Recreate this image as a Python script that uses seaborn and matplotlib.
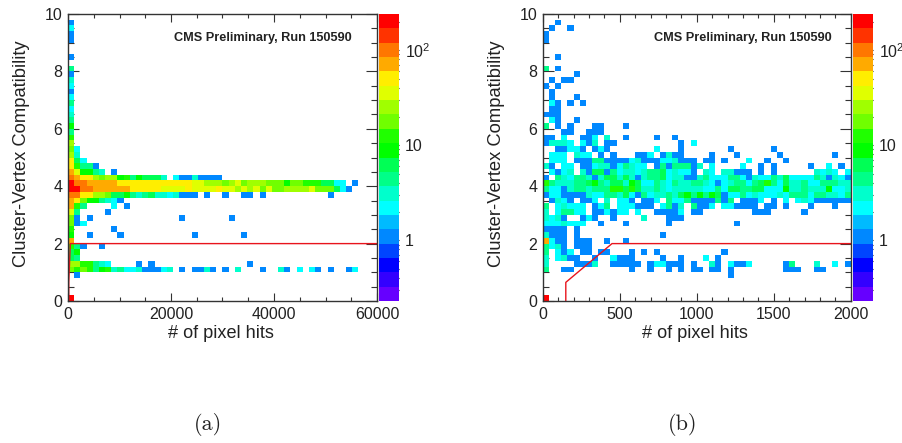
import numpy as np
import pandas as pd
import matplotlib
matplotlib.use("Agg")
import matplotlib.pyplot as plt
from matplotlib.colors import ListedColormap, LogNorm
import seaborn as sns

n_bins = 50
y_max = 10
left_x_max = 60000
right_x_max = 2000

# 20 colour levels of the palette, bottom of the scale first
palette = ["#6600ff", "#3300ff", "#0000ff", "#0044ff", "#0088ff", "#00bbff", "#00ffff",
           "#00ffcc", "#00ff88", "#00ff55", "#00ff00", "#20ff00", "#70ff00", "#a0ff00",
           "#e0ff00", "#ffee00", "#ffaa00", "#ff7700", "#ff3300", "#ff0000"]
z_min = 0.229
z_max = 240

# counts per cell, key = row counted from the top (y=10), a list starts at column 0,
# a dict is {column: count}
left_counts = {
    1: [1], 2: [2], 3: [1], 4: [1], 7: [1], 9: [4], 10: [1], 11: [3], 12: [2], 13: [1],
    14: [2], 15: [4], 16: [2], 17: [3], 18: [4], 19: [9], 20: [4], 21: [12], 22: [24],
    23: [17, 2], 24: [24, 3], 25: [50, 6, 2], 26: [50, 12, 4, 4, 1],
    27: [75, 33, 9, 9, 4, 3, 0, 1],
    28: [110, 75, 50, 50, 24, 17, 24, 24, 9, 12, 4, 9, 6, 6, 6, 3, 0, 2, 1, 1, 3, 1, 1, 1, 1],
    29: [170, 110, 110, 75, 75, 75, 75, 75, 50, 50, 50, 50, 50, 50, 50, 50, 50, 50, 50, 50,
         33, 33, 24, 24, 24, 17, 24, 33, 17, 24, 24, 24, 17, 17, 17, 9, 17, 17, 12, 12, 12,
         6, 6, 2, 2, 0, 1],
    30: [170, 170, 110, 110, 75, 75, 75, 75, 75, 75, 50, 50, 50, 50, 50, 33, 33, 33, 33, 50,
         33, 33, 33, 33, 50, 33, 33, 24, 33, 24, 33, 17, 33, 17, 17, 24, 24, 24, 24, 33, 17,
         17, 17, 6, 2, 1],
    31: [110, 110, 50, 50, 24, 24, 17, 6, 6, 9, 4, 3, 4, 6, 3, 3, 2, 3, 1, 1, 1, 0, 1, 0, 0, 1,
         0, 0, 1, 1, 0, 1, 0, 0, 0, 0, 0, 0, 0, 0, 0, 0, 1],
    32: [75, 50, 17, 9, 9, 4, 3, 2, 1],
    33: [75, 12, 4, 0, 0, 0, 0, 2, 0, 1],
    34: [33, 4, 0, 0, 0, 0, 1],
    35: {0: 17, 1: 1, 3: 1, 18: 1, 26: 1},
    36: [17, 1, 2],
    37: {0: 12, 7: 1},
    38: {0: 9, 3: 1, 8: 1, 20: 1, 28: 1},
    39: [75],
    40: [12, 4, 1, 0, 0, 1],
    41: [6, 9],
    42: [6, 4],
    43: {0: 24, 1: 24, 2: 12, 3: 12, 4: 4, 5: 3, 6: 2, 11: 1, 13: 1, 29: 1},
    44: {0: 17, 1: 12, 2: 17, 3: 12, 4: 4, 5: 9, 6: 12, 7: 3, 8: 4, 9: 2, 10: 2, 11: 3, 12: 1,
         13: 1, 14: 1, 15: 2, 16: 3, 18: 1, 20: 1, 21: 1, 22: 3, 23: 1, 25: 1, 27: 3, 31: 1,
         34: 3, 35: 1, 37: 2, 39: 2, 40: 1, 42: 1, 45: 1, 46: 2},
    45: {1: 1},
    49: [220],
}

right_counts = {
    1: {2: 1}, 2: {1: 1, 4: 1}, 3: [1], 4: [1], 7: {2: 1}, 9: {0: 4, 2: 1}, 10: {5: 1},
    11: {1: 1, 3: 1, 4: 1}, 12: {0: 1, 2: 1}, 13: {1: 1}, 14: {1: 1, 5: 1},
    15: {1: 2, 2: 1, 4: 1, 6: 1}, 16: {1: 1, 2: 1}, 17: {0: 1, 1: 1, 2: 1},
    18: {1: 2, 2: 1, 5: 1}, 19: {0: 4, 2: 1, 4: 1, 8: 1, 9: 1, 13: 1},
    20: {3: 1, 4: 1, 7: 1, 8: 1, 9: 1},
    21: {0: 1, 1: 1, 3: 2, 6: 1, 7: 1, 8: 2, 10: 3, 13: 1, 18: 1, 21: 1},
    22: {0: 1, 1: 3, 2: 3, 3: 3, 4: 2, 6: 2, 7: 1, 8: 3, 10: 1, 11: 1, 22: 1, 24: 2},
    23: {2: 1, 3: 1, 4: 2, 5: 2, 6: 1, 8: 1, 9: 2, 10: 1, 18: 2, 22: 1, 30: 1, 37: 1},
    24: {1: 2, 2: 2, 3: 2, 5: 3, 6: 2, 7: 2, 9: 1, 11: 1, 15: 1, 16: 1, 17: 2, 19: 1, 20: 3,
         21: 1, 22: 1, 27: 1, 31: 1, 38: 1, 47: 1},
    25: {1: 2, 2: 2, 3: 2, 5: 1, 6: 1, 7: 1, 8: 4, 9: 4, 10: 1, 11: 1, 12: 1, 13: 1, 14: 2, 15: 3,
         16: 1, 17: 1, 18: 1, 19: 2, 20: 2, 21: 3, 22: 1, 23: 1, 24: 1, 26: 1, 27: 1, 29: 1, 33: 2,
         36: 1, 39: 1},
    26: {0: 3, 1: 1, 3: 2, 4: 2, 6: 1, 7: 1, 8: 2, 9: 3, 10: 3, 11: 1, 12: 2, 13: 4, 14: 3, 15: 2,
         16: 2, 18: 1, 19: 4, 20: 1, 21: 4, 22: 4, 23: 4, 24: 1, 25: 3, 27: 2, 32: 2, 35: 1, 37: 1,
         43: 1, 46: 2, 48: 1},
    27: {1: 2, 2: 1, 3: 2, 4: 3, 6: 3, 7: 1, 8: 6, 9: 6, 10: 1, 11: 4, 12: 2, 13: 3, 14: 3, 15: 2,
         16: 3, 17: 4, 18: 4, 19: 6, 20: 2, 21: 3, 22: 2, 23: 2, 24: 1, 26: 3, 27: 2, 29: 3, 30: 3,
         31: 1, 32: 1, 33: 1, 35: 1, 37: 1, 44: 3, 45: 2, 46: 3, 47: 2, 49: 2},
    28: [1, 0, 4, 3, 2, 4, 4, 3, 1, 3, 6, 6, 3, 6, 3, 1, 3, 4, 4, 6, 2, 3, 3, 1, 1, 3, 4, 2, 2, 2,
         4, 4, 2, 1, 3, 2, 2, 4, 3, 6, 2, 2, 2, 2, 4, 3, 1, 3, 2, 1],
    29: [12, 4, 3, 3, 3, 4, 4, 6, 9, 4, 3, 6, 6, 3, 9, 6, 2, 2, 4, 3, 2, 4, 3, 3, 4, 4, 3, 2, 1, 2,
         3, 4, 4, 2, 4, 6, 12, 4, 2, 6, 3, 3, 4, 2, 2, 4, 4, 4, 3, 3],
    30: [4, 2, 2, 1, 3, 4, 4, 3, 4, 4, 4, 12, 12, 6, 12, 6, 3, 3, 4, 3, 2, 3, 3, 3, 3, 3, 2, 2, 4, 2,
         6, 6, 4, 4, 6, 6, 2, 2, 2, 9, 3, 3, 4, 3, 3, 3, 9, 2, 2, 3],
    31: [1, 2, 2, 1, 1, 1, 1, 3, 2, 2, 4, 4, 3, 6, 2, 1, 4, 2, 3, 3, 4, 3, 6, 9, 4, 9, 4, 9, 6, 1,
         2, 2, 4, 2, 3, 2, 2, 2, 3, 2, 4, 4, 4, 2, 4, 4, 3, 3, 2, 4],
    32: {1: 1, 2: 3, 3: 2, 4: 1, 6: 1, 7: 1, 8: 2, 10: 3, 12: 2, 13: 2, 14: 1, 16: 1, 17: 1, 18: 2,
         20: 4, 21: 2, 22: 2, 23: 4, 24: 1, 25: 1, 26: 1, 27: 1, 28: 4, 29: 1, 30: 4, 32: 1, 33: 1,
         34: 1, 35: 2, 37: 1, 39: 2, 41: 2, 42: 3, 43: 2, 44: 1, 45: 1, 46: 1, 47: 1, 48: 1, 49: 1},
    33: {0: 4, 2: 2, 3: 3, 4: 2, 5: 2, 6: 2, 8: 1, 9: 2, 10: 4, 12: 2, 13: 2, 14: 2, 15: 1, 16: 1,
         17: 1, 19: 2, 20: 4, 21: 1, 22: 3, 24: 4, 25: 1, 26: 1, 27: 2, 29: 2, 30: 2, 31: 1, 32: 1,
         33: 1, 34: 1, 36: 1, 37: 1, 39: 1, 43: 1, 47: 1},
    34: {0: 3, 2: 2, 3: 4, 4: 4, 5: 2, 6: 2, 8: 1, 9: 1, 10: 2, 11: 1, 12: 2, 13: 2, 15: 2, 18: 1,
         19: 1, 20: 1, 21: 1, 22: 2, 24: 1, 25: 1, 34: 1, 35: 1, 36: 1, 42: 1},
    35: {0: 3, 1: 2, 2: 3, 3: 1, 6: 1, 7: 2, 8: 1, 11: 1, 16: 3, 20: 1, 21: 1, 22: 1},
    36: {0: 2, 1: 2, 2: 2, 3: 3, 4: 2, 5: 2, 6: 2, 9: 1, 13: 1, 20: 1, 31: 1},
    37: {0: 1, 1: 1, 2: 1, 3: 1, 5: 1},
    38: {0: 3, 1: 1, 2: 1, 3: 1, 5: 1, 19: 1},
    39: {0: 75, 1: 2, 2: 1, 3: 1, 5: 1, 6: 1, 7: 1, 10: 1, 13: 1},
    40: {0: 4, 1: 2, 2: 3, 3: 1, 5: 1, 6: 1, 7: 1},
    41: {0: 4, 2: 2, 3: 1, 4: 2, 6: 1, 7: 1, 9: 1, 10: 1, 14: 1, 16: 1, 18: 1, 29: 1},
    42: {0: 3, 2: 2, 3: 3, 4: 1, 5: 1, 8: 1, 11: 2, 12: 1, 13: 1, 14: 1, 19: 1, 22: 1, 26: 2, 28: 1},
    43: {0: 3, 5: 1, 6: 1, 7: 1, 8: 3, 11: 1, 12: 1, 13: 1, 14: 1, 15: 1, 17: 1, 18: 2, 19: 2, 20: 1,
         21: 1, 22: 1, 24: 1, 27: 3, 28: 1, 30: 2, 31: 1, 32: 1, 33: 2, 39: 1, 40: 4, 44: 3, 47: 2,
         49: 1},
    44: {0: 4, 3: 1, 4: 1, 14: 1, 17: 1, 20: 1, 22: 1, 24: 1, 25: 1, 27: 1, 28: 1, 30: 1, 39: 1,
         40: 1, 41: 1, 44: 1, 45: 1},
    45: {30: 1},
    49: [220],
}

cut_x = [150, 150, 450, 60000]
cut_y = [0, 0.65, 2, 2]

y_ticks = [0, 2, 4, 6, 8, 10]
y_minor = [0.5, 1, 1.5, 2.5, 3, 3.5, 4.5, 5, 5.5, 6.5, 7, 7.5, 8.5, 9, 9.5]
left_x_ticks = [0, 20000, 40000, 60000]
right_x_ticks = [0, 500, 1000, 1500, 2000]
z_ticks = [1, 10, 100]
z_tick_labels = ["1", "10", "$10^{2}$"]
z_minor = [0.3, 0.4, 0.5, 0.6, 0.7, 0.8, 0.9, 2, 3, 4, 5, 6, 7, 8, 9,
           20, 30, 40, 50, 60, 70, 80, 90, 200]

sns.set_style("white")
plt.rcParams["font.family"] = ["Liberation Sans", "DejaVu Sans"]
plt.rcParams["mathtext.fontset"] = "custom"
plt.rcParams["mathtext.rm"] = "Liberation Sans"
plt.rcParams["mathtext.default"] = "regular"

W, H = 903, 443
frame_col = "#333333"


def to_grid(rows):
    grid = np.zeros((n_bins, n_bins))
    for r, row in rows.items():
        items = row.items() if isinstance(row, dict) else enumerate(row)
        for c, n in items:
            grid[r, c] = n
    return pd.DataFrame(grid)


def box(x0, x1, y0, y1):
    return [x0 / W, 1 - y1 / H, (x1 - x0) / W, (y1 - y0) / H]


def draw_panel(fig, counts, x_max, x_ticks, x_minor, x_pos, cbar_pos, note_x, caption, caption_x):
    ax = fig.add_axes(box(*x_pos, 14, 301))
    cax = fig.add_axes(box(*cbar_pos, 14, 301))
    grid = to_grid(counts)
    sns.heatmap(grid, mask=grid == 0, cmap=ListedColormap(palette), norm=LogNorm(z_min, z_max),
                xticklabels=False, yticklabels=False, cbar_ax=cax, linewidths=0, ax=ax)

    # heatmap axes run in bin numbers, y from the top
    x_scale = n_bins / x_max
    y_scale = n_bins / y_max
    ax.plot(np.array(cut_x) * x_scale, (y_max - np.array(cut_y)) * y_scale,
            color="#e8141c", lw=1.0, clip_on=True)

    ax.set_xticks(np.array(x_ticks) * x_scale)
    ax.set_xticklabels([str(v) for v in x_ticks])
    ax.set_xticks(np.array(x_minor) * x_scale, minor=True)
    ax.set_yticks((y_max - np.array(y_ticks)) * y_scale)
    ax.set_yticklabels([str(v) for v in y_ticks], rotation=0)
    ax.set_yticks((y_max - np.array(y_minor)) * y_scale, minor=True)
    ax.tick_params(axis="x", which="major", direction="in", length=5.5, width=0.8, top=True,
                   bottom=True, labelsize=11.5, color=frame_col, labelcolor="#222222", pad=4)
    ax.tick_params(axis="x", which="minor", direction="in", length=3, width=0.8, top=True,
                   bottom=True, color=frame_col)
    ax.tick_params(axis="y", which="major", direction="in", length=8, width=0.8, left=True,
                   right=True, labelsize=11.5, color=frame_col, labelcolor="#222222", pad=4)
    ax.tick_params(axis="y", which="minor", direction="in", length=4, width=0.8, left=True,
                   right=True, color=frame_col)
    for sp in ax.spines.values():
        sp.set_visible(True)
        sp.set_color(frame_col)
        sp.set_linewidth(1.0)
    ax.set_xlabel("# of pixel hits", fontsize=13.1, color="#222222", labelpad=2.2, x=0.495)
    ax.set_ylabel("Cluster-Vertex Compatibility", fontsize=13.2, color="#222222", labelpad=10.5,
                  y=0.515)
    ax.text(note_x, 0.917, "CMS Preliminary, Run 150590", transform=ax.transAxes, ha="right",
            va="center", fontsize=9.2, fontweight="bold", color="#222222")

    cbar = ax.collections[0].colorbar
    cbar.outline.set_visible(False)
    cax.set_yticks(z_ticks)
    cax.set_yticklabels(z_tick_labels)
    cax.set_yticks(z_minor, minor=True)
    cax.yaxis.set_minor_formatter(plt.NullFormatter())
    cax.tick_params(axis="y", which="major", direction="in", length=7, width=0.8, right=True,
                    labelsize=11.5, color="#111111", labelcolor="#222222", pad=4)
    cax.tick_params(axis="y", which="minor", direction="in", length=3.5, width=0.8, right=True,
                    color="#111111")

    fig.text(caption_x / W, 1 - 425 / H, caption, ha="center", va="center",
             fontsize=16, family="cmr10", color="#222222")


fig = plt.figure(figsize=(W / 100, H / 100), dpi=100)
draw_panel(fig, left_counts, left_x_max, left_x_ticks, np.arange(5000, 60000, 5000),
           (68, 377), (379, 399.5), 0.919, "(a)", 208)
draw_panel(fig, right_counts, right_x_max, right_x_ticks, np.arange(100, 2000, 100),
           (542.7, 850.7), (852.7, 873), 0.938, "(b)", 683)
fig.savefig("out.png", dpi=100)
